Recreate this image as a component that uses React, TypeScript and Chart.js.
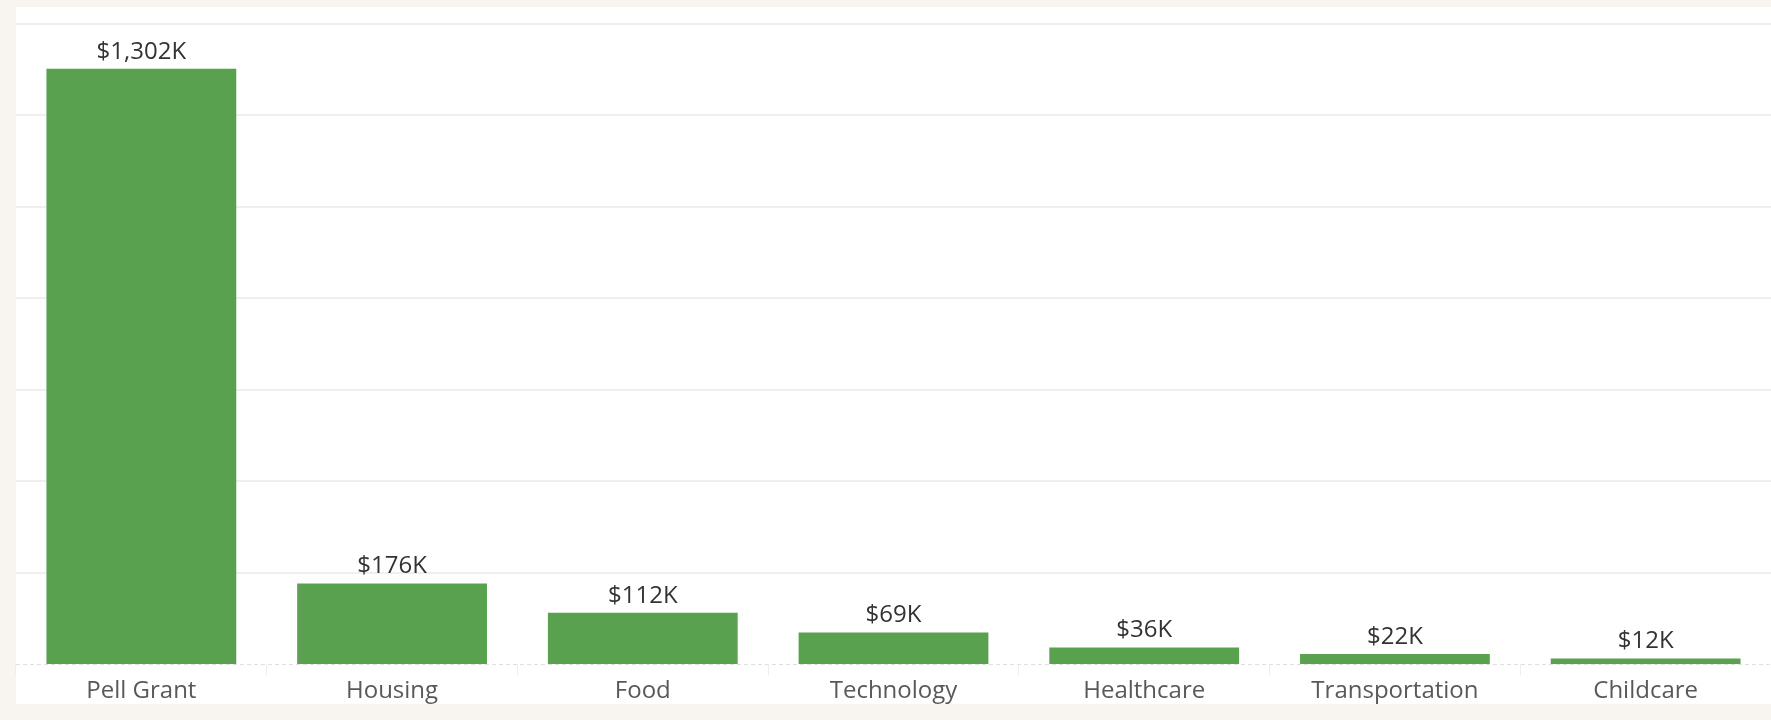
import React, { useEffect, useRef } from "react";
import { Chart, registerables } from "chart.js";

Chart.register(...registerables);

const categories = ["Pell Grant", "Housing", "Food", "Technology", "Healthcare", "Transportation", "Childcare"];
const amountsK = [1302, 176, 112, 69, 36, 22, 12];
const gridValuesK = [200, 400, 600, 800, 1000, 1200, 1400];
const yMaxK = 1437;

const FONT = "'Open Sans', 'Noto Sans', sans-serif";

const panelPlugin = {
  id: "panel",
  beforeDraw(chart: any) {
    const { ctx, chartArea, scales } = chart;
    ctx.save();
    ctx.fillStyle = "#ffffff";
    ctx.fillRect(chartArea.left, chartArea.top, chartArea.right - chartArea.left, scales.x.bottom - chartArea.top);
    ctx.restore();
  },
  beforeDatasetsDraw(chart: any) {
    const { ctx, chartArea, scales } = chart;
    const y = scales.y;
    ctx.save();
    ctx.strokeStyle = "#efefef";
    ctx.lineWidth = 2;
    gridValuesK.forEach((v) => {
      const py = Math.round(y.getPixelForValue(v));
      ctx.beginPath();
      ctx.moveTo(chartArea.left, py);
      ctx.lineTo(chartArea.right, py);
      ctx.stroke();
    });
    ctx.restore();
  },
  afterDatasetsDraw(chart: any) {
    const { ctx, chartArea, scales } = chart;
    const y0 = scales.y.getPixelForValue(0);
    ctx.save();
    ctx.strokeStyle = "#e0e0e0";
    ctx.lineWidth = 1;
    ctx.setLineDash([4, 3]);
    ctx.beginPath();
    ctx.moveTo(chartArea.left, y0 + 0.5);
    ctx.lineTo(chartArea.right, y0 + 0.5);
    ctx.stroke();
    ctx.setLineDash([]);
    const meta = chart.getDatasetMeta(0);
    ctx.fillStyle = "#333333";
    ctx.font = `24px ${FONT}`;
    ctx.textAlign = "center";
    ctx.textBaseline = "bottom";
    meta.data.forEach((bar: any, i: number) => {
      const v = amountsK[i];
      ctx.fillText(`$${v.toLocaleString("en-US")}K`, bar.x, bar.y - 5);
    });
    ctx.restore();
  },
};

export default function App() {
  const ref = useRef<HTMLCanvasElement | null>(null);
  useEffect(() => {
    if (!ref.current) return;
    const chart = new Chart(ref.current, {
      type: "bar",
      data: {
        labels: categories,
        datasets: [
          {
            data: amountsK,
            backgroundColor: "#59a14f",
            categoryPercentage: 1,
            barPercentage: 0.757,
          },
        ],
      },
      options: {
        animation: false,
        responsive: true,
        maintainAspectRatio: false,
        layout: { padding: { left: 16, top: 7, right: 0, bottom: 16 } },
        plugins: { legend: { display: false }, tooltip: { enabled: false } },
        scales: {
          x: {
            border: { display: false },
            grid: {
              offset: true,
              drawOnChartArea: false,
              drawTicks: true,
              tickLength: 11,
              color: "#eeeeee",
              lineWidth: 1,
            },
            ticks: {
              color: "#595959",
              font: { family: FONT, size: 24 },
              padding: 2,
              maxRotation: 0,
              autoSkip: false,
            },
            afterFit(scale: any) {
              scale.height = 40;
            },
          },
          y: {
            min: 0,
            max: yMaxK,
            border: { display: false },
            ticks: { display: false },
            grid: { display: false, drawTicks: false },
            afterFit(scale: any) {
              scale.width = 0;
            },
          },
        },
      },
      plugins: [panelPlugin],
    });
    return () => chart.destroy();
  }, []);
  return (
    <div
      style={{
        position: "absolute",
        left: 0,
        top: 0,
        width: 1771,
        height: 720,
        background: "#f8f4f0",
      }}
    >
      <canvas ref={ref} />
    </div>
  );
}
